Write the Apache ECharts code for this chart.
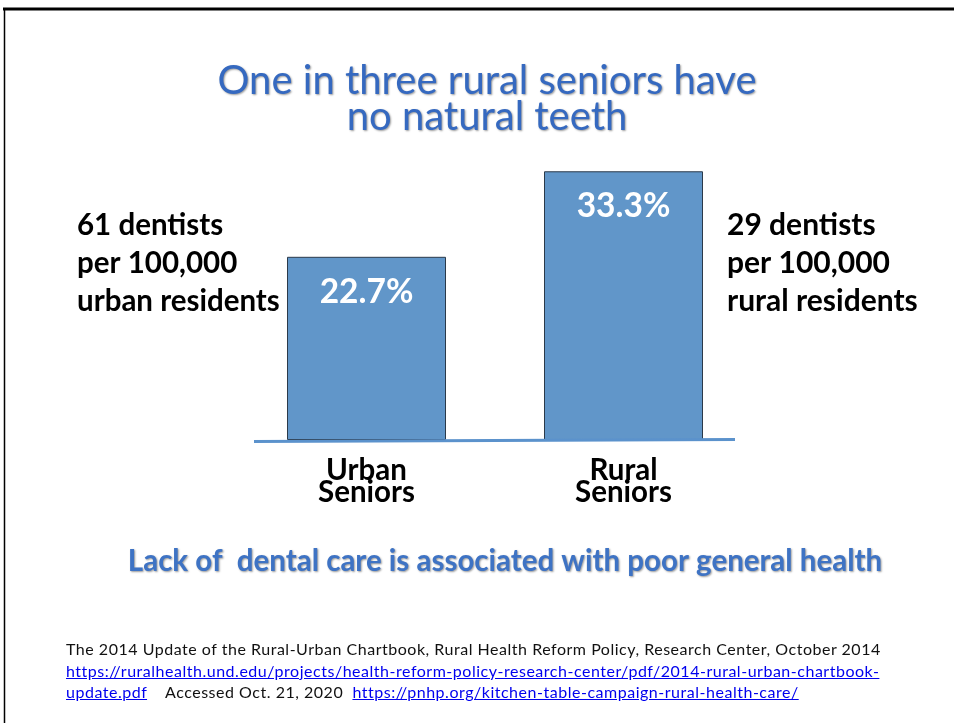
<!DOCTYPE html>
<html>
<head>
<meta charset="utf-8">
<script src="https://cdn.jsdelivr.net/npm/echarts@6/dist/echarts.min.js"></script>
<style>
html,body{margin:0;padding:0;background:#fff;}
#chart{width:954px;height:723px;position:absolute;left:0;top:0;}
.foot{position:absolute;left:66px;font-family:Lato,"Open Sans",sans-serif;font-size:16px;letter-spacing:0.52px;color:#111;white-space:nowrap;line-height:21.5px;}
.foot a{color:#0000ee;text-decoration:underline;}
</style>
</head>
<body>
<div id="chart"></div>
<div class="foot" style="top:638px;">The 2014 Update of the Rural-Urban Chartbook, Rural Health Reform Policy, Research Center, October 2014<br><a>https://ruralhealth.und.edu/projects/health-reform-policy-research-center/pdf/2014-rural-urban-chartbook-</a><br><a>update.pdf</a>&nbsp;&nbsp;&nbsp; Accessed Oct. 21, 2020&nbsp; <a>https://pnhp.org/kitchen-table-campaign-rural-health-care/</a></div>
<script>
const categories = ["Urban\nSeniors", "Rural\nSeniors"];
const percentNoTeeth = [22.7, 33.3];
const titleLines = ["One in three rural seniors have", "no natural teeth"];
const leftNote = ["61 dentists", "per 100,000", "urban residents"];
const rightNote = ["29 dentists", "per 100,000", "rural residents"];
const subtitle = "Lack of  dental care is associated with poor general health";

const chart = echarts.init(document.getElementById('chart'), null, {renderer: 'canvas'});
const FONT = 'Lato, "Open Sans", sans-serif';

function textEl(text, x, y, font, fill, align, shadow) {
  const st = {text: text, x: x, y: y, font: font, fill: fill, align: align || 'left', verticalAlign: 'middle'};
  if (shadow) {
    st.textShadowColor = 'rgba(0,0,0,0.4)'; st.textShadowBlur = 2; st.textShadowOffsetX = 1; st.textShadowOffsetY = 1;
  }
  return {type: 'text', style: st, z: 20};
}
const graphics = [
  {type: 'line', shape: {x1: 254, y1: 441.5, x2: 735, y2: 439.5}, style: {stroke: '#5B92CC', lineWidth: 3}, z: 10},
  {type: 'line', shape: {x1: 3, y1: 9, x2: 954, y2: 9}, style: {stroke: '#000', lineWidth: 3}},
  {type: 'line', shape: {x1: 4.5, y1: 8, x2: 4.5, y2: 723}, style: {stroke: '#000', lineWidth: 1.5}}
];
titleLines.forEach((t, i) => graphics.push(textEl(t, 487, 81 + i * 36, 'normal 40px ' + FONT, '#3569C0', 'center', true)));
leftNote.forEach((t, i) => graphics.push(textEl(t, 77, 225 + i * 38, 'bold 29.5px ' + FONT, '#000', 'left')));
rightNote.forEach((t, i) => graphics.push(textEl(t, 727, 225 + i * 38, 'bold 30px ' + FONT, '#000', 'left')));
graphics.push(textEl(subtitle, 505, 561, 'bold 29.5px ' + FONT, '#3E73C4', 'center', true));

chart.setOption({
  backgroundColor: '#ffffff',
  animation: false,
  grid: {left: 238, right: 202, top: 117.2, bottom: 283, containLabel: false},
  xAxis: {
    type: 'category', data: categories,
    axisLine: {show: false}, axisTick: {show: false},
    axisLabel: {fontFamily: FONT, fontSize: 29.5, fontWeight: 'bold', color: '#000', lineHeight: 22.5, margin: 19}
  },
  yAxis: {type: 'value', min: 0, max: 40, show: false, splitLine: {show: false}},
  series: [{
    type: 'bar', data: percentNoTeeth, barWidth: 159,
    itemStyle: {color: '#6196C9', borderColor: '#2b3a4a', borderWidth: 1},
    label: {show: true, position: 'insideTop', distance: 18, formatter: p => p.value.toFixed(1) + '%',
      fontFamily: FONT, fontSize: 33.5, fontWeight: 'bold', color: '#fff'}
  }],
  graphic: graphics
});
</script>
</body>
</html>
